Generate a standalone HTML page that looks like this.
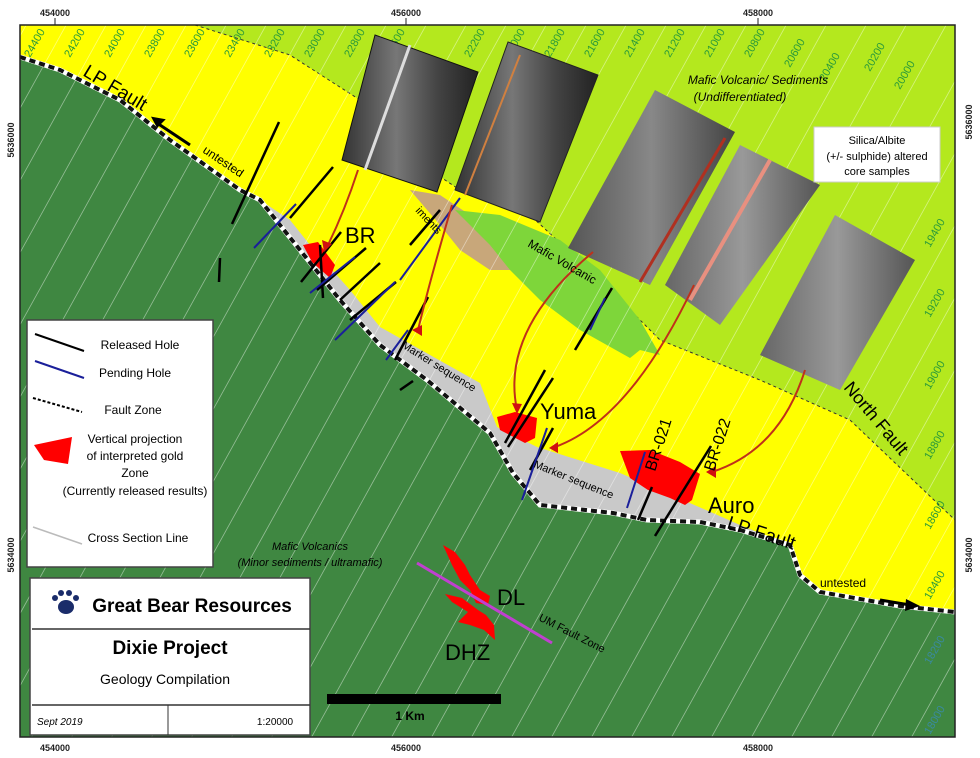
<!DOCTYPE html>
<html><head><meta charset="utf-8"><style>
body{margin:0;background:#fff;}
svg{display:block;font-family:"Liberation Sans",sans-serif;}
</style></head><body>
<svg width="980" height="758" viewBox="0 0 980 758" xmlns="http://www.w3.org/2000/svg">
<defs>
<clipPath id="frame"><rect x="20" y="25" width="935" height="712"/></clipPath>
<linearGradient id="core1" x1="0" y1="0" x2="1" y2="0"><stop offset="0" stop-color="#333"/><stop offset="0.4" stop-color="#777"/><stop offset="0.7" stop-color="#444"/><stop offset="1" stop-color="#222"/></linearGradient>
<linearGradient id="core2" x1="0" y1="0" x2="1" y2="0"><stop offset="0" stop-color="#555"/><stop offset="0.5" stop-color="#888"/><stop offset="1" stop-color="#444"/></linearGradient>
<linearGradient id="core3" x1="0" y1="0" x2="1" y2="0"><stop offset="0" stop-color="#666"/><stop offset="0.5" stop-color="#999"/><stop offset="1" stop-color="#555"/></linearGradient>
</defs>
<rect width="980" height="758" fill="#fff"/>
<g clip-path="url(#frame)">
<rect x="20" y="25" width="935" height="712" fill="#3f8741"/>
<path d="M20,25 L955,25 L955,612 L900,606 L820,592 L800,575 L790,545 L740,530 L700,522 L647,520 L613,513 L540,505 L513,473 L490,433 L427,380 L380,345 L340,300 L300,250 L260,200 L240,190 L170,140 L120,100 L60,70 L20,57 Z" fill="#ffff00"/>
<path d="M195,25 L955,25 L955,520 L850,420 L760,380 L660,340 L600,280 L530,215 L460,190 L400,150 L360,100 L290,55 Z" fill="#b4e81e"/>
<path d="M195,25 L290,55 L360,100 L400,150 L460,190 L530,215 L600,280 L660,340 L760,380 L850,420 L955,520" fill="none" stroke="#333" stroke-width="1" stroke-dasharray="3,3"/>
<path d="M260,200 L290,220 L310,245 L350,290 L380,327 L480,383 L497,427 L537,447 L620,473 L713,513 L740,525 L790,545 L740,530 L700,522 L647,520 L613,513 L540,505 L513,473 L490,433 L427,380 L380,345 L340,300 L300,250 Z" fill="#c9c9c9"/>
<path d="M410,190 L440,195 L470,215 L500,240 L510,270 L490,270 L460,250 L440,225 Z" fill="#c8a77a"/>
<path d="M455,210 L500,215 L560,240 L600,270 L640,320 L660,355 L640,350 L630,358 L580,330 L540,300 L510,270 L490,245 Z" fill="#7ed63a"/>
<g stroke="#fff" stroke-width="0.8" opacity="0.45">
<line x1="-500" y1="758" x2="-80" y2="0"/><line x1="-460" y1="758" x2="-40" y2="0"/><line x1="-420" y1="758" x2="0" y2="0"/><line x1="-380" y1="758" x2="40" y2="0"/><line x1="-340" y1="758" x2="80" y2="0"/><line x1="-300" y1="758" x2="120" y2="0"/><line x1="-260" y1="758" x2="160" y2="0"/><line x1="-220" y1="758" x2="200" y2="0"/><line x1="-180" y1="758" x2="240" y2="0"/><line x1="-140" y1="758" x2="280" y2="0"/><line x1="-100" y1="758" x2="320" y2="0"/><line x1="-60" y1="758" x2="360" y2="0"/><line x1="-20" y1="758" x2="400" y2="0"/><line x1="20" y1="758" x2="440" y2="0"/><line x1="60" y1="758" x2="480" y2="0"/><line x1="100" y1="758" x2="520" y2="0"/><line x1="140" y1="758" x2="560" y2="0"/><line x1="180" y1="758" x2="600" y2="0"/><line x1="220" y1="758" x2="640" y2="0"/><line x1="260" y1="758" x2="680" y2="0"/><line x1="300" y1="758" x2="720" y2="0"/><line x1="340" y1="758" x2="760" y2="0"/><line x1="380" y1="758" x2="800" y2="0"/><line x1="420" y1="758" x2="840" y2="0"/><line x1="460" y1="758" x2="880" y2="0"/><line x1="500" y1="758" x2="920" y2="0"/><line x1="540" y1="758" x2="960" y2="0"/><line x1="580" y1="758" x2="1000" y2="0"/><line x1="620" y1="758" x2="1040" y2="0"/><line x1="660" y1="758" x2="1080" y2="0"/><line x1="700" y1="758" x2="1120" y2="0"/><line x1="740" y1="758" x2="1160" y2="0"/><line x1="780" y1="758" x2="1200" y2="0"/><line x1="820" y1="758" x2="1240" y2="0"/><line x1="860" y1="758" x2="1280" y2="0"/><line x1="900" y1="758" x2="1320" y2="0"/>
</g>
<g fill="#2a9a3a" font-size="11">
<text transform="translate(30,58) rotate(-60)">24400</text>
<text transform="translate(70,58) rotate(-60)">24200</text>
<text transform="translate(110,58) rotate(-60)">24000</text>
<text transform="translate(150,58) rotate(-60)">23800</text>
<text transform="translate(190,58) rotate(-60)">23600</text>
<text transform="translate(230,58) rotate(-60)">23400</text>
<text transform="translate(270,58) rotate(-60)">23200</text>
<text transform="translate(310,58) rotate(-60)">23000</text>
<text transform="translate(350,58) rotate(-60)">22800</text>
<text transform="translate(390,58) rotate(-60)">22600</text>
<text transform="translate(470,58) rotate(-60)">22200</text>
<text transform="translate(510,58) rotate(-60)">22000</text>
<text transform="translate(550,58) rotate(-60)">21800</text>
<text transform="translate(590,58) rotate(-60)">21600</text>
<text transform="translate(630,58) rotate(-60)">21400</text>
<text transform="translate(670,58) rotate(-60)">21200</text>
<text transform="translate(710,58) rotate(-60)">21000</text>
<text transform="translate(750,58) rotate(-60)">20800</text>
<text transform="translate(790,68) rotate(-60)">20600</text>
<text transform="translate(825,82) rotate(-60)">20400</text>
<text transform="translate(870,72) rotate(-60)">20200</text>
<text transform="translate(900,90) rotate(-60)">20000</text>
<text transform="translate(930,248) rotate(-60)">19400</text>
<text transform="translate(930,318) rotate(-60)">19200</text>
<text transform="translate(930,390) rotate(-60)">19000</text>
<text transform="translate(930,460) rotate(-60)">18800</text>
<text transform="translate(930,530) rotate(-60)">18600</text>
<text transform="translate(930,600) rotate(-60)">18400</text>
<text transform="translate(930,665) rotate(-60)" fill="#3a8aa0">18200</text>
<text transform="translate(930,735) rotate(-60)" fill="#3a8aa0">18000</text>
</g>
<path d="M20,57 L60,70 L120,100 L170,140 L240,190 L260,200 L300,250 L340,300 L380,345 L427,380 L490,433 L513,473 L540,505 L613,513 L647,520 L700,522 L740,530 L790,545 L800,575 L820,592 L900,606 L955,612" fill="none" stroke="#fff" stroke-width="5"/>
<path d="M20,57 L60,70 L120,100 L170,140 L240,190 L260,200 L300,250 L340,300 L380,345 L427,380 L490,433 L513,473 L540,505 L613,513 L647,520 L700,522 L740,530 L790,545 L800,575 L820,592 L900,606 L955,612" fill="none" stroke="#111" stroke-width="4" stroke-dasharray="6,4"/>
<path d="M303,245 L318,242 L335,265 L330,278 L312,262 Z" fill="#f00"/>
<path d="M497,417 L515,412 L537,418 L535,438 L525,443 L500,430 Z" fill="#f00"/>
<path d="M620,451 L650,450 L680,462 L700,474 L692,500 L685,505 L670,498 L648,490 L630,478 Z" fill="#f00"/>
<path d="M443,545 L455,552 L465,565 L470,575 L480,590 L490,596 L488,605 L476,603 L470,590 L460,580 L452,565 Z" fill="#f00"/>
<path d="M445,594 L462,598 L478,610 L486,615 L494,625 L495,640 L484,630 L470,625 L458,622 L468,612 L452,602 Z" fill="#f00"/>
<line x1="417" y1="563" x2="552" y2="643" stroke="#c040d0" stroke-width="3"/>
<g stroke="#000" stroke-width="2.5" fill="none">
<line x1="279" y1="122" x2="232" y2="224"/>
<line x1="220" y1="258" x2="219" y2="282"/>
<line x1="333" y1="167" x2="290" y2="218"/>
<line x1="341" y1="232" x2="301" y2="282"/>
<line x1="320" y1="245" x2="323" y2="298"/>
<line x1="366" y1="248" x2="317" y2="290"/>
<line x1="380" y1="263" x2="340" y2="300"/>
<line x1="396" y1="282" x2="350" y2="320"/>
<line x1="440" y1="210" x2="410" y2="245"/>
<line x1="428" y1="297" x2="395" y2="360"/>
<line x1="413" y1="381" x2="400" y2="390"/>
<line x1="545" y1="370" x2="505" y2="443"/>
<line x1="553" y1="378" x2="508" y2="447"/>
<line x1="612" y1="288" x2="575" y2="350"/>
<line x1="553" y1="428" x2="530" y2="470"/>
<line x1="711" y1="446" x2="655" y2="536"/>
<line x1="652" y1="487" x2="638" y2="520"/>
</g>
<g stroke="#1a1f9a" stroke-width="2" fill="none">
<line x1="296" y1="204" x2="254" y2="248"/>
<line x1="355" y1="257" x2="310" y2="293"/>
<line x1="395" y1="282" x2="335" y2="340"/>
<line x1="460" y1="198" x2="400" y2="280"/>
<line x1="408" y1="330" x2="386" y2="360"/>
<line x1="605" y1="298" x2="590" y2="330"/>
<line x1="547" y1="428" x2="522" y2="500"/>
<line x1="645" y1="452" x2="627" y2="508"/>
</g>
<polygon points="375,35 478,72 437,192 342,160" fill="url(#core1)" stroke="#111"/>
<polygon points="508,42 598,75 540,222 455,190" fill="url(#core1)" stroke="#222"/>
<polygon points="655,90 735,132 650,285 568,248" fill="url(#core2)"/>
<polygon points="740,145 820,185 720,325 665,285" fill="url(#core3)"/>
<polygon points="835,215 915,260 840,390 760,355" fill="url(#core3)"/>
<line x1="520" y1="55" x2="465" y2="195" stroke="#d08040" stroke-width="2"/>
<line x1="725" y1="138" x2="640" y2="282" stroke="#b03020" stroke-width="3"/>
<line x1="770" y1="160" x2="690" y2="300" stroke="#e89080" stroke-width="4"/>
<line x1="410" y1="45" x2="365" y2="170" stroke="#ddd" stroke-width="3"/>
<g stroke="#c0301a" stroke-width="2" fill="none">
<path d="M358,170 Q345,210 328,245"/>
<path d="M452,205 Q430,280 418,330"/>
<path d="M593,252 Q500,330 517,410"/>
<path d="M694,285 Q630,420 555,447"/>
<path d="M805,370 Q780,450 712,472"/>
</g>
<g fill="#d01010">
<polygon points="324,252 322,240 332,244"/><polygon points="412,330 422,325 422,336"/><polygon points="517,414 512,403 522,404"/><polygon points="549,448 558,442 558,453"/><polygon points="706,472 716,466 716,478"/>
</g>
<text x="345" y="243" font-size="22">BR</text>
<text x="540" y="419" font-size="22">Yuma</text>
<text x="708" y="513" font-size="22">Auro</text>
<text x="497" y="605" font-size="22">DL</text>
<text x="445" y="660" font-size="22">DHZ</text>
<text transform="translate(655,472) rotate(-72)" font-size="16">BR-021</text>
<text transform="translate(714,472) rotate(-72)" font-size="16">BR-022</text>
<text transform="translate(82,75) rotate(31)" font-size="19">LP Fault</text>
<text transform="translate(726,528) rotate(18)" font-size="19">LP Fault</text>
<text transform="translate(843,388) rotate(50)" font-size="18">North Fault</text>
<text transform="translate(202,152) rotate(34)" font-size="12">untested</text>
<text x="820" y="587" font-size="12">untested</text>
<text transform="translate(401,347) rotate(32)" font-size="11">Marker sequence</text>
<text transform="translate(533,467) rotate(22)" font-size="11">Marker sequence</text>
<text transform="translate(538,620) rotate(27)" font-size="11">UM Fault Zone</text>
<text transform="translate(415,211) rotate(47)" font-size="11">iments</text>
<text transform="translate(527,246) rotate(30)" font-size="12">Mafic Volcanic</text>
<text x="758" y="84" font-size="12" font-style="italic" text-anchor="middle">Mafic Volcanic/ Sediments</text>
<text x="740" y="101" font-size="12" font-style="italic" text-anchor="middle">(Undifferentiated)</text>
<text x="310" y="550" font-size="11" font-style="italic" text-anchor="middle">Mafic Volcanics</text>
<text x="310" y="566" font-size="11" font-style="italic" text-anchor="middle">(Minor sediments / ultramafic)</text>
<g stroke="#000" stroke-width="3"><line x1="190" y1="145" x2="157" y2="123"/><line x1="880" y1="600" x2="910" y2="605"/></g>
<polygon points="150,118 165,118 158,128" fill="#000" transform="rotate(10,158,123)"/>
<polygon points="920,606 906,599 905,611" fill="#000"/>
<rect x="814" y="127" width="126" height="55" fill="#fff" stroke="#ccc"/>
<text x="877" y="144" font-size="11" text-anchor="middle">Silica/Albite</text>
<text x="877" y="160" font-size="11" text-anchor="middle">(+/- sulphide) altered</text>
<text x="877" y="175" font-size="11" text-anchor="middle">core samples</text>
<rect x="27" y="320" width="186" height="247" fill="#fff" stroke="#444" stroke-width="1.5"/>
<line x1="35" y1="334" x2="84" y2="351" stroke="#000" stroke-width="2"/>
<text x="140" y="349" font-size="12" text-anchor="middle">Released Hole</text>
<line x1="35" y1="361" x2="84" y2="378" stroke="#1a1f9a" stroke-width="2"/>
<text x="135" y="377" font-size="12" text-anchor="middle">Pending Hole</text>
<line x1="33" y1="398" x2="82" y2="412" stroke="#000" stroke-width="2" stroke-dasharray="3,2"/>
<text x="133" y="414" font-size="12" text-anchor="middle">Fault Zone</text>
<polygon points="34,445 72,437 68,464 44,460" fill="#f00"/>
<text x="135" y="443" font-size="12" text-anchor="middle">Vertical projection</text>
<text x="135" y="460" font-size="12" text-anchor="middle">of interpreted gold</text>
<text x="135" y="477" font-size="12" text-anchor="middle">Zone</text>
<text x="135" y="495" font-size="12" text-anchor="middle">(Currently released results)</text>
<line x1="33" y1="527" x2="82" y2="544" stroke="#bbb" stroke-width="1.5"/>
<text x="138" y="542" font-size="12" text-anchor="middle">Cross Section Line</text>
<rect x="30" y="578" width="280" height="157" fill="#fff" stroke="#444" stroke-width="1.5"/>
<line x1="32" y1="629" x2="310" y2="629" stroke="#333" stroke-width="1.5"/>
<line x1="32" y1="705" x2="310" y2="705" stroke="#333" stroke-width="1.5"/>
<line x1="168" y1="705" x2="168" y2="735" stroke="#333"/>
<g fill="#1a2c6a"><ellipse cx="66" cy="607" rx="8" ry="7"/><circle cx="55" cy="598" r="3"/><circle cx="61" cy="593" r="3"/><circle cx="69" cy="593" r="3"/><circle cx="76" cy="598" r="3"/></g>
<text x="192" y="612" font-size="19" font-weight="bold" text-anchor="middle">Great Bear Resources</text>
<text x="170" y="654" font-size="19" font-weight="bold" text-anchor="middle">Dixie Project</text>
<text x="165" y="684" font-size="14" text-anchor="middle">Geology Compilation</text>
<text x="37" y="725" font-size="10" font-style="italic">Sept 2019</text>
<text x="275" y="725" font-size="10" text-anchor="middle">1:20000</text>
<rect x="327" y="694" width="174" height="10" fill="#000"/>
<text x="410" y="720" font-size="12" font-weight="bold" text-anchor="middle">1 Km</text>
</g>
<rect x="20" y="25" width="935" height="712" fill="none" stroke="#222" stroke-width="1.5"/>
<g font-size="9" font-weight="bold" fill="#222">
<text x="55" y="16" text-anchor="middle">454000</text><line x1="55" y1="18" x2="55" y2="25" stroke="#222"/>
<text x="406" y="16" text-anchor="middle">456000</text><line x1="406" y1="18" x2="406" y2="25" stroke="#222"/>
<text x="758" y="16" text-anchor="middle">458000</text><line x1="758" y1="18" x2="758" y2="25" stroke="#222"/>
<text x="55" y="751" text-anchor="middle">454000</text><text x="406" y="751" text-anchor="middle">456000</text><text x="758" y="751" text-anchor="middle">458000</text>
<text transform="translate(14,140) rotate(-90)" text-anchor="middle">5636000</text>
<text transform="translate(14,555) rotate(-90)" text-anchor="middle">5634000</text>
<text transform="translate(972,122) rotate(-90)" text-anchor="middle">5636000</text>
<text transform="translate(972,555) rotate(-90)" text-anchor="middle">5634000</text>
</g>
</svg>
</body></html>
